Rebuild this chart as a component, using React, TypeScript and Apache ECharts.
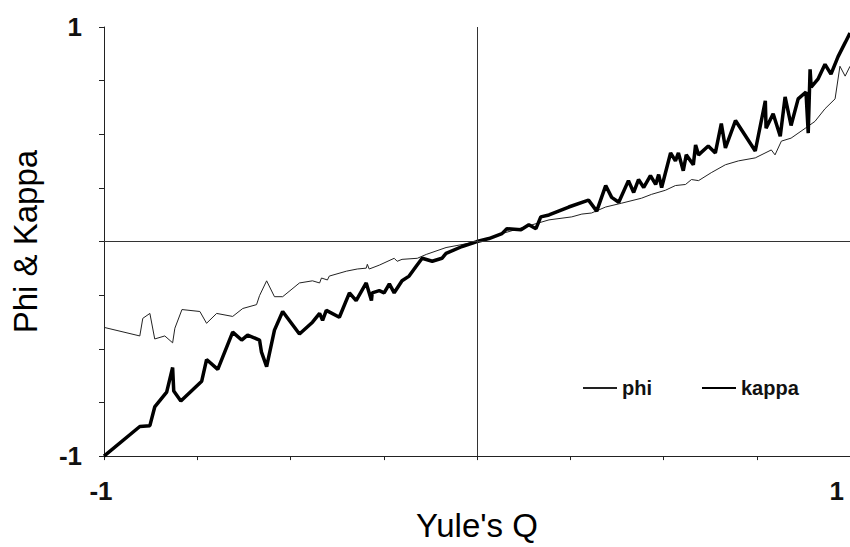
import React, { useEffect, useRef } from "react";
import * as echarts from "echarts";

// Yule's Q values (x) and corresponding phi values
const phiQ = [
  -1, -0.904, -0.896, -0.877, -0.864, -0.837, -0.816, -0.81, -0.791, -0.743, -0.725, -0.698,
  -0.655, -0.628, -0.591, -0.583, -0.564, -0.543, -0.521, -0.476, -0.441, -0.422, -0.417,
  -0.401, -0.396, -0.35, -0.321, -0.297, -0.294, -0.289, -0.262, -0.222, -0.214, -0.201,
  -0.16, -0.136, -0.083, -0.04, 0, 0.032, 0.067, 0.112, 0.193, 0.254, 0.281, 0.307, 0.345,
  0.388, 0.441, 0.468, 0.505, 0.532, 0.559, 0.575, 0.594, 0.628, 0.666, 0.701, 0.746,
  0.789, 0.799, 0.816, 0.842, 0.88, 0.906, 0.933, 0.96, 0.973, 0.987, 1,
];
const phiValues = [
  -0.4, -0.44, -0.358, -0.335, -0.454, -0.44, -0.472, -0.404, -0.317, -0.326, -0.381, -0.335,
  -0.349, -0.312, -0.294, -0.252, -0.183, -0.257, -0.257, -0.193, -0.183, -0.193, -0.17,
  -0.179, -0.161, -0.138, -0.128, -0.124, -0.106, -0.128, -0.11, -0.078, -0.092, -0.083,
  -0.078, -0.06, -0.028, -0.014, 0, 0.014, 0.037, 0.06, 0.101, 0.115, 0.128, 0.133, 0.161,
  0.179, 0.202, 0.22, 0.239, 0.261, 0.266, 0.289, 0.284, 0.321, 0.358, 0.376, 0.39,
  0.427, 0.404, 0.468, 0.482, 0.528, 0.56, 0.619, 0.665, 0.817, 0.771, 0.817,
];

// Yule's Q values (x) and corresponding kappa values
const kappaQ = [
  -1, -0.904, -0.877, -0.864, -0.832, -0.816, -0.813, -0.794, -0.738, -0.725, -0.695, -0.655,
  -0.631, -0.615, -0.583, -0.578, -0.564, -0.543, -0.521, -0.476, -0.441, -0.422, -0.414,
  -0.404, -0.369, -0.342, -0.324, -0.297, -0.283, -0.281, -0.262, -0.249, -0.235, -0.222,
  -0.201, -0.182, -0.163, -0.147, -0.12, -0.094, -0.083, -0.04, 0, 0.032, 0.067, 0.08,
  0.118, 0.139, 0.158, 0.171, 0.193, 0.246, 0.299, 0.321, 0.345, 0.361, 0.38, 0.406, 0.42,
  0.433, 0.447, 0.465, 0.479, 0.487, 0.495, 0.519, 0.532, 0.54, 0.553, 0.561, 0.58, 0.586,
  0.594, 0.62, 0.639, 0.655, 0.666, 0.693, 0.746, 0.773, 0.775, 0.794, 0.813, 0.826, 0.842,
  0.861, 0.882, 0.888, 0.893, 0.896, 0.914, 0.933, 0.949, 0.968, 0.987, 1,
];
const kappaValues = [
  -1, -0.862, -0.858, -0.771, -0.702, -0.587, -0.697, -0.743, -0.651, -0.55, -0.596, -0.422,
  -0.459, -0.436, -0.459, -0.514, -0.583, -0.413, -0.326, -0.431, -0.376, -0.335, -0.367,
  -0.321, -0.353, -0.239, -0.275, -0.193, -0.275, -0.239, -0.229, -0.239, -0.197, -0.239,
  -0.183, -0.161, -0.115, -0.078, -0.092, -0.078, -0.055, -0.023, 0, 0.014, 0.037, 0.06,
  0.055, 0.078, 0.06, 0.115, 0.124, 0.161, 0.193, 0.142, 0.261, 0.206, 0.183, 0.284, 0.229,
  0.289, 0.252, 0.307, 0.266, 0.312, 0.252, 0.413, 0.376, 0.413, 0.33, 0.404, 0.358, 0.45,
  0.404, 0.445, 0.413, 0.55, 0.436, 0.564, 0.422, 0.656, 0.528, 0.596, 0.491, 0.674, 0.541,
  0.665, 0.697, 0.505, 0.803, 0.72, 0.757, 0.826, 0.78, 0.862, 0.927, 0.972,
];

const axisLabelsShown = [-1, 1];

export default function App() {
  const ref = useRef<HTMLDivElement>(null);
  useEffect(() => {
    if (!ref.current) return;
    const chart = echarts.init(ref.current, null, { renderer: "svg" });
    const font = "'Liberation Sans', Arial, sans-serif";
    chart.setOption({
      animation: false,
      backgroundColor: "#ffffff",
      textStyle: { fontFamily: font },
      grid: { left: 104, top: 27, width: 748, height: 436 },
      legend: {
        left: 582,
        top: 378,
        padding: 0,
        itemWidth: 34,
        itemHeight: 20,
        itemGap: 49,
        itemStyle: { opacity: 0 },
        textStyle: { fontFamily: font, fontSize: 20, fontWeight: "bold", color: "#111" },
        data: ["phi", "kappa"],
      },
      xAxis: {
        type: "value",
        min: -1,
        max: 1,
        interval: 0.25,
        name: "Yule's Q",
        nameLocation: "middle",
        nameGap: 50,
        nameTextStyle: { fontFamily: font, fontSize: 33, color: "#000" },
        axisLine: { onZero: false, lineStyle: { color: "#222", width: 1 } },
        axisTick: { length: 4, lineStyle: { color: "#222" } },
        splitLine: { show: false },
        axisLabel: {
          fontFamily: font,
          fontSize: 26,
          fontWeight: "bold",
          color: "#111",
          margin: 22,
          alignMaxLabel: "right",
          padding: [0, 6, 0, 0],
          formatter: (v: number) => (axisLabelsShown.includes(v) ? String(v) : ""),
        },
      },
      yAxis: {
        type: "value",
        min: -1,
        max: 1,
        interval: 0.25,
        name: "Phi & Kappa",
        nameLocation: "middle",
        nameGap: 62,
        nameTextStyle: { fontFamily: font, fontSize: 33, color: "#000" },
        axisLine: { show: true, onZero: false, lineStyle: { color: "#222", width: 1 } },
        axisTick: { show: true, length: 5, lineStyle: { color: "#222" } },
        splitLine: { show: false },
        axisLabel: {
          fontFamily: font,
          fontSize: 26,
          fontWeight: "bold",
          color: "#111",
          margin: 22,
          formatter: (v: number) => (axisLabelsShown.includes(v) ? String(v) : ""),
        },
      },
      series: [
        {
          name: "phi",
          type: "line",
          symbol: "none",
          data: phiQ.map((q, i) => [q, phiValues[i]]),
          lineStyle: { color: "#222", width: 1 },
          itemStyle: { color: "#222" },
          markLine: {
            silent: true,
            symbol: "none",
            label: { show: false },
            lineStyle: { color: "#333", width: 1, type: "solid" },
            data: [{ xAxis: 0 }, { yAxis: 0 }],
          },
          z: 3,
        },
        {
          name: "kappa",
          type: "line",
          symbol: "none",
          data: kappaQ.map((q, i) => [q, kappaValues[i]]),
          lineStyle: { color: "#000", width: 3.5 },
          itemStyle: { color: "#000" },
          z: 4,
        },
      ],
    });
    return () => chart.dispose();
  }, []);
  return (
    <div
      ref={ref}
      style={{ position: "fixed", left: 0, top: 0, width: 850, height: 547, background: "#fff" }}
    />
  );
}
